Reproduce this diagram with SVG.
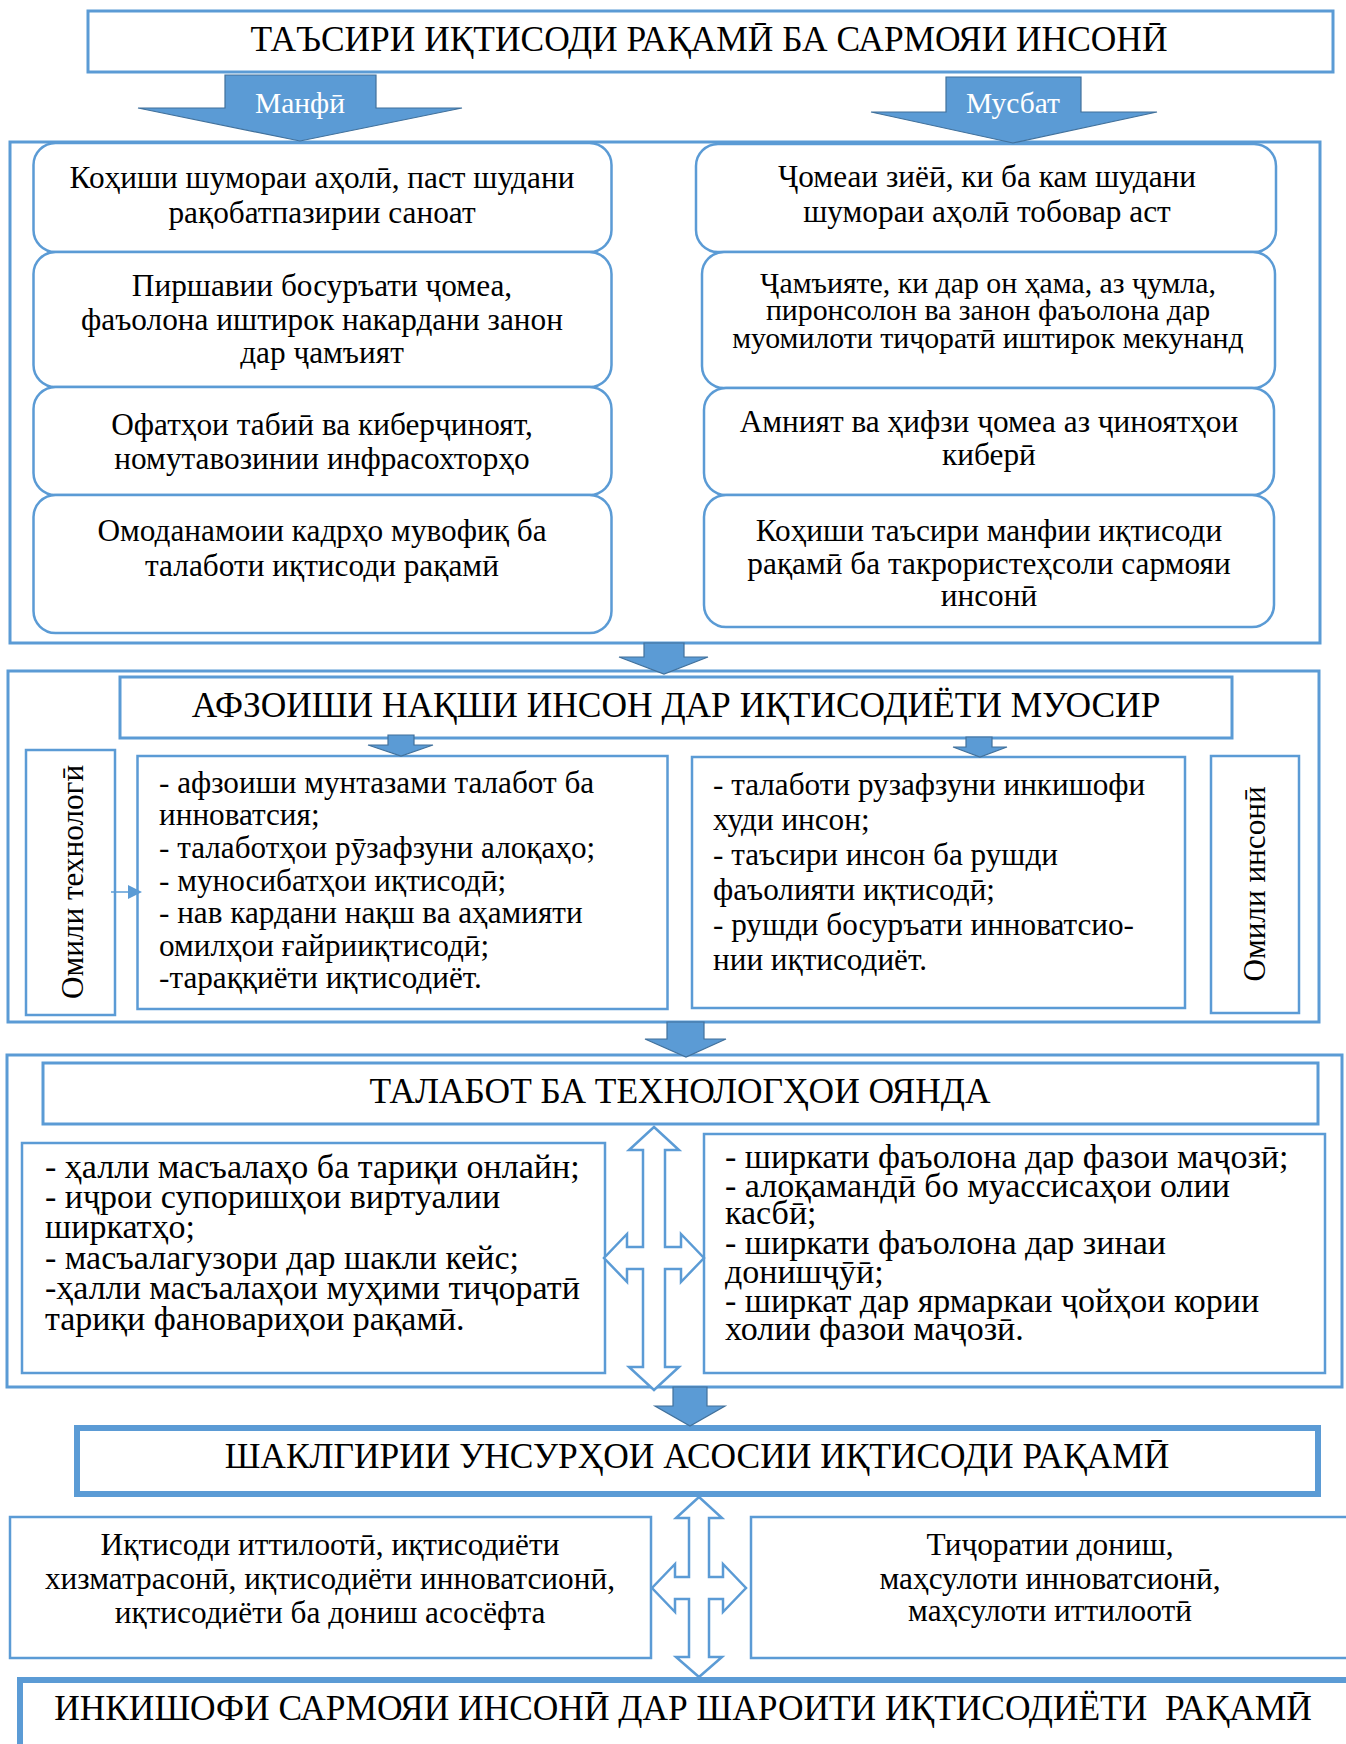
<svg xmlns="http://www.w3.org/2000/svg" width="1346" height="1744" viewBox="0 0 1346 1744">
<style>
.bx{fill:#fff;stroke:#5B9BD5;stroke-width:3}
.bt{fill:none;stroke:#5B9BD5;stroke-width:6}
.rb{fill:#fff;stroke:#5B9BD5;stroke-width:2.5}
.ar{fill:#5B9BD5;stroke:#41719C;stroke-width:1.2}
.dx{fill:#fff;stroke:#5B9BD5;stroke-width:2.5}
text{font-family:"Liberation Serif","Times New Roman",serif;fill:#000}
.h{font-size:35.4px;text-anchor:middle}
.c{font-size:31.3px;text-anchor:middle}
.c2{font-size:29.8px;text-anchor:middle}
.l{font-size:31.2px}
.l3{font-size:34px}
.w{font-size:29.5px;fill:#fff;text-anchor:middle}
</style>
<rect width="1346" height="1744" fill="#fff"/>

<g id="title1">
<rect class="bx" x="88" y="11" width="1245" height="61"/>
<text class="h" x="709" y="51">ТАЪСИРИ ИҚТИСОДИ РАҚАМӢ БА САРМОЯИ ИНСОНӢ</text>
</g>

<g id="section1">
<rect class="bx" x="10" y="142" width="1310" height="501"/>
</g>

<g id="neg1"><rect class="rb" x="33.5" y="143" width="578" height="109" rx="22"/>
<text class="c" x="322" y="188">Коҳиши шумораи аҳолӣ, паст шудани</text>
<text class="c" x="322" y="223">рақобатпазирии саноат</text></g>
<g id="neg2"><rect class="rb" x="33.5" y="252" width="578" height="135" rx="22"/>
<text class="c" x="322" y="296">Пиршавии босуръати ҷомеа,</text>
<text class="c" x="322" y="330">фаъолона иштирок накардани занон</text>
<text class="c" x="322" y="363">дар ҷамъият</text></g>
<g id="neg3"><rect class="rb" x="33.5" y="387" width="578" height="108" rx="22"/>
<text class="c" x="322" y="435">Офатҳои табиӣ ва киберҷиноят,</text>
<text class="c" x="322" y="469">номутавозинии инфрасохторҳо</text></g>
<g id="neg4"><rect class="rb" x="33.5" y="495" width="578" height="138" rx="22"/>
<text class="c" x="322" y="541">Омоданамоии кадрҳо мувофиқ ба</text>
<text class="c" x="322" y="576">талаботи иқтисоди рақамӣ</text></g>

<g id="pos1"><rect class="rb" x="696" y="144" width="580" height="108" rx="22"/>
<text class="c" x="987" y="187">Ҷомеаи зиёӣ, ки ба кам шудани</text>
<text class="c" x="987" y="222">шумораи аҳолӣ тобовар аст</text></g>
<g id="pos2"><rect class="rb" x="702" y="252" width="573" height="136" rx="22"/>
<text class="c2" x="988" y="293">Ҷамъияте, ки дар он ҳама, аз ҷумла,</text>
<text class="c2" x="988" y="320">пиронсолон ва занон фаъолона дар</text>
<text class="c2" x="988" y="348">муомилоти тиҷоратӣ иштирок мекунанд</text></g>
<g id="pos3"><rect class="rb" x="704" y="388" width="570" height="107" rx="22"/>
<text class="c" x="989" y="432">Амният ва ҳифзи ҷомеа аз ҷиноятҳои</text>
<text class="c" x="989" y="465">киберӣ</text></g>
<g id="pos4"><rect class="rb" x="704" y="495" width="570" height="132" rx="22"/>
<text class="c" x="989" y="541">Коҳиши таъсири манфии иқтисоди</text>
<text class="c" x="989" y="574">рақамӣ ба такрористеҳсоли сармояи</text>
<text class="c" x="989" y="606">инсонӣ</text></g>

<g id="section2">
<rect class="bx" x="8" y="671" width="1311" height="351"/>
</g>
<g id="title2">
<rect class="bx" x="120" y="677" width="1112" height="61"/>
<text class="h" x="676" y="717">АФЗОИШИ НАҚШИ ИНСОН ДАР ИҚТИСОДИЁТИ МУОСИР</text>
</g>
<g id="techfactor">
<rect class="rb" x="26" y="750" width="89" height="265"/>
<text class="l" transform="translate(83,882) rotate(-90)" text-anchor="middle">Омили технологӣ</text>
</g>
<g id="techlist">
<rect class="rb" x="137.5" y="756" width="530" height="253"/>
<text class="l" x="159" y="793">- афзоиши мунтазами талабот ба</text>
<text class="l" x="159" y="825">инноватсия;</text>
<text class="l" x="159" y="858">- талаботҳои рӯзафзуни алоқаҳо;</text>
<text class="l" x="159" y="891">- муносибатҳои иқтисодӣ;</text>
<text class="l" x="159" y="923">- нав кардани нақш ва аҳамияти</text>
<text class="l" x="159" y="956">омилҳои ғайрииқтисодӣ;</text>
<text class="l" x="159" y="988">-тараққиёти иқтисодиёт.</text>
</g>
<g id="humanlist">
<rect class="rb" x="692" y="757" width="493" height="251"/>
<text class="l" x="713" y="795">- талаботи рузафзуни инкишофи</text>
<text class="l" x="713" y="830">худи инсон;</text>
<text class="l" x="713" y="865">- таъсири инсон ба рушди</text>
<text class="l" x="713" y="900">фаъолияти иқтисодӣ;</text>
<text class="l" x="713" y="935">- рушди босуръати инноватсио-</text>
<text class="l" x="713" y="970">нии иқтисодиёт.</text>
</g>
<g id="humanfactor">
<rect class="rb" x="1211" y="756" width="88" height="257"/>
<text class="l" transform="translate(1265,884) rotate(-90)" text-anchor="middle">Омили инсонӣ</text>
</g>

<g id="section3">
<rect class="bx" x="7" y="1055" width="1335" height="332"/>
</g>
<g id="title3">
<rect class="bx" x="43" y="1063" width="1275" height="61"/>
<text class="h" x="680" y="1103">ТАЛАБОТ БА ТЕХНОЛОГҲОИ ОЯНДА</text>
</g>
<g id="onlinelist">
<rect class="rb" x="22" y="1143" width="583" height="230"/>
<text class="l3" x="45" y="1178">- ҳалли масъалаҳо ба тариқи онлайн;</text>
<text class="l3" x="45" y="1208">- иҷрои супоришҳои виртуалии</text>
<text class="l3" x="45" y="1238">ширкатҳо;</text>
<text class="l3" x="45" y="1269">- масъалагузори дар шакли кейс;</text>
<text class="l3" x="45" y="1299">-ҳалли масъалаҳои муҳими тиҷоратӣ</text>
<text class="l3" x="45" y="1330">тариқи фановариҳои рақамӣ.</text>
</g>
<g id="virtuallist">
<rect class="rb" x="704" y="1134" width="621" height="239"/>
<text class="l3" x="725" y="1168">- ширкати фаъолона дар фазои маҷозӣ;</text>
<text class="l3" x="725" y="1197">- алоқамандӣ бо муассисаҳои олии</text>
<text class="l3" x="725" y="1224">касбӣ;</text>
<text class="l3" x="725" y="1254">- ширкати фаъолона дар зинаи</text>
<text class="l3" x="725" y="1283">донишҷӯӣ;</text>
<text class="l3" x="725" y="1312">- ширкат дар ярмаркаи ҷойҳои кории</text>
<text class="l3" x="725" y="1340">холии фазои маҷозӣ.</text>
</g>

<g id="title4">
<rect class="bt" x="77" y="1428" width="1241" height="66"/>
<text class="h" x="697" y="1468">ШАКЛГИРИИ УНСУРҲОИ АСОСИИ ИҚТИСОДИ РАҚАМӢ</text>
</g>
<g id="elem1">
<rect class="rb" x="10" y="1517" width="641" height="141"/>
<text class="c" x="330" y="1555">Иқтисоди иттилоотӣ, иқтисодиёти</text>
<text class="c" x="330" y="1589">хизматрасонӣ, иқтисодиёти инноватсионӣ,</text>
<text class="c" x="330" y="1623">иқтисодиёти ба дониш асосёфта</text>
</g>
<g id="elem2">
<rect class="rb" x="751" y="1517" width="620" height="141"/>
<text class="c" x="1050" y="1555">Тиҷоратии дониш,</text>
<text class="c" x="1050" y="1589">маҳсулоти инноватсионӣ,</text>
<text class="c" x="1050" y="1621">маҳсулоти иттилоотӣ</text>
</g>

<g id="final">
<rect class="bt" x="20" y="1680" width="1360" height="100"/>
<text class="h" x="683" y="1720" xml:space="preserve">ИНКИШОФИ САРМОЯИ ИНСОНӢ ДАР ШАРОИТИ ИҚТИСОДИЁТИ  РАҚАМӢ</text>
</g>

<g id="connectors">
<g id="arrow-manfi">
<polygon class="ar" points="225,75 376,75 376,108 462,108 300,141 138,108 225,108"/>
<text class="w" x="300" y="113">Манфӣ</text>
</g>
<g id="arrow-musbat">
<polygon class="ar" points="946,77 1081,77 1081,112 1157,112 1013,143 871,112 946,112"/>
<text class="w" x="1013" y="113">Мусбат</text>
</g>
<polygon class="ar" points="644,643 684,643 684,657 708,657 664,674 619,657 644,657"/>
<polygon class="ar" points="388,735 414,735 414,745 433,745 401,756 368,745 388,745"/>
<polygon class="ar" points="966,737 992,737 992,747 1007,747 980,757 953,747 966,747"/>
<line x1="111" y1="892" x2="130" y2="892" stroke="#5B9BD5" stroke-width="1.5"/>
<polygon points="128,885 142,892 128,899" fill="#5B9BD5"/>
<polygon class="ar" points="667,1022 704,1022 704,1039 726,1039 686,1057 645,1039 667,1039"/>
<polygon class="dx" points="654,1127 679,1150 665,1150 665,1247 681,1247 681,1234 704,1258 681,1282 681,1269 665,1269 665,1367 679,1367 654,1390 629,1367 643,1367 643,1269 627,1269 627,1282 604,1258 627,1234 627,1247 643,1247 643,1150 629,1150"/>
<polygon class="ar" points="673,1387 707,1387 707,1406 725,1406 690,1426 655,1406 673,1406"/>
<polygon class="dx" points="699,1497 722,1518 709,1518 709,1577 723,1577 723,1564 746,1588 723,1612 723,1599 709,1599 709,1657 722,1657 699,1677 676,1657 689,1657 689,1599 675,1599 675,1612 652,1588 675,1564 675,1577 689,1577 689,1518 676,1518"/>
</g>
</svg>
